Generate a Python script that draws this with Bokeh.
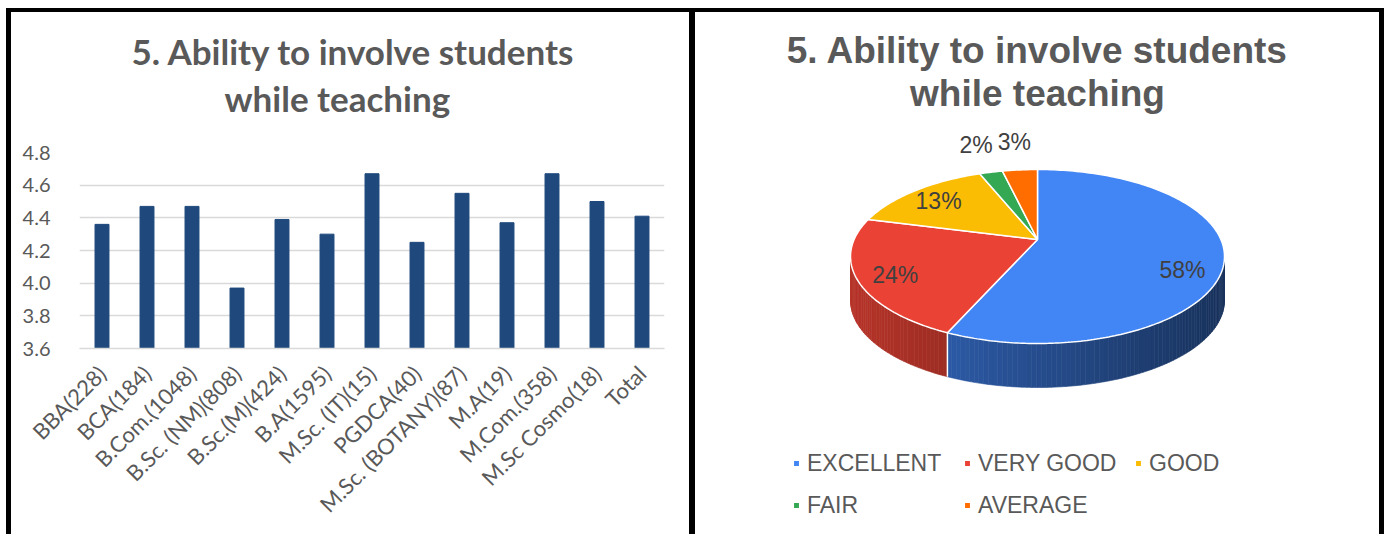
import math
from bokeh.plotting import figure
from bokeh.layouts import row
from bokeh.models import (FactorRange, Range1d, Title, FixedTicker, PrintfTickFormatter,
                          Legend, LegendItem)
from bokeh.core.properties import value
from bokeh.embed import file_html
from bokeh.resources import INLINE

# ---------------- data ----------------
courses = ["BBA(228)", "BCA(184)", "B.Com.(1048)", "B.Sc. (NM)(808)", "B.Sc.(M)(424)",
           "B.A(1595)", "M.Sc. (IT)(15)", "PGDCA(40)", "M.Sc. (BOTANY)(87)", "M.A(19)",
           "M.Com.(358)", "M.Sc Cosmo(18)", "Total"]
scores = [4.36, 4.47, 4.47, 3.97, 4.39, 4.30, 4.67, 4.25, 4.55, 4.37, 4.67, 4.50, 4.41]
y_ticks = [3.6, 3.8, 4.0, 4.2, 4.4, 4.6, 4.8]

ratings = ["EXCELLENT", "VERY GOOD", "GOOD", "FAIR", "AVERAGE"]
shares = [58, 24, 13, 2, 3]
share_labels = ["58%", "24%", "13%", "2%", "3%"]
pie_colors = ["#4285F4", "#EA4335", "#FBBC04", "#34A853", "#FF6D01"]

title_1 = "5. Ability to involve students"
title_2 = "while teaching"

GRAY = "#595959"
H = 522


def prep(p):
    if "frame_align" in p.properties():
        p.frame_align = False
    p.outline_line_color = None
    p.background_fill_color = "white"
    p.border_fill_color = "white"
    p.styles = {"background-color": "white"}


# ---------------- bar chart ----------------
p1 = figure(x_range=FactorRange(factors=courses, range_padding=0),
            y_range=Range1d(3.6, 4.8), width=678, height=H,
            output_backend="svg", toolbar_location=None,
            min_border_left=68, min_border_right=25, min_border_top=140,
            min_border_bottom=186)
prep(p1)

p1.vbar(x=courses, top=scores, bottom=3.6, width=0.31, fill_color="#1F497D",
        line_color="#1F497D")

p1.ygrid.grid_line_color = "#D9D9D9"
p1.ygrid.grid_line_width = 1.5
p1.xgrid.grid_line_color = None
p1.yaxis.ticker = FixedTicker(ticks=y_ticks)
p1.yaxis.formatter = PrintfTickFormatter(format="%.1f")
p1.yaxis.axis_line_color = None
p1.yaxis.major_tick_line_color = None
p1.yaxis.minor_tick_line_color = None
p1.yaxis.major_label_standoff = 23
p1.yaxis.major_label_text_font_size = "20px"
p1.xaxis.axis_line_color = "#D9D9D9"
p1.xaxis.axis_line_width = 1.5
p1.xaxis.major_tick_line_color = None
p1.xaxis.major_label_orientation = math.pi / 4
p1.xaxis.major_label_standoff = 15
p1.xaxis.major_label_text_font_size = "22px"
for ax in (p1.xaxis, p1.yaxis):
    ax.major_label_text_font = "Lato"
    ax.major_label_text_color = GRAY

sp1 = Title(text=" ", standoff=19.5, text_font="Lato", text_font_size="10px",
            text_color="white")
t1b = Title(text=title_2, align="left", offset=145, standoff=0,
            text_font="Lato", text_font_size="35px", text_font_style="bold",
            text_color=GRAY)
t1a = Title(text=title_1, align="left", offset=52, standoff=6,
            text_font="Lato", text_font_size="35px", text_font_style="bold",
            text_color=GRAY)
p1.add_layout(sp1, "above")
p1.add_layout(t1b, "above")
p1.add_layout(t1a, "above")

# ---------------- 3D pie ----------------
W2, TOP2 = 684, 120
FH = H - TOP2
p2 = figure(width=W2, height=H, x_range=Range1d(0, W2), y_range=Range1d(0, FH),
            output_backend="svg", toolbar_location=None, x_axis_type=None,
            y_axis_type=None, min_border_left=0, min_border_right=0,
            min_border_bottom=0, min_border_top=TOP2)
prep(p2)
p2.grid.visible = False

cx, cy, rx, ry, depth = 342.0, 278.0, 187.0, 87.0, 44.0
ax_, ay_ = cx, cy + 17.0  # apex of the slices (perspective)


def edge(theta_deg, dy=0.0):
    t = math.radians(theta_deg)
    return cx + rx * math.sin(t), cy + ry * math.cos(t) - dy


def shade(hex_color, f):
    h = hex_color.lstrip("#")
    r, g, b = (int(h[i:i + 2], 16) for i in (0, 2, 4))
    return "#%02x%02x%02x" % (int(r * f), int(g * f), int(b * f))


total = float(sum(shares))
bounds = []
acc = 0.0
for s in shares:
    a0 = acc / total * 360.0
    acc += s
    a1 = acc / total * 360.0
    bounds.append((a0, a1))

# side walls (front half, 90..270 deg), drawn as thin shaded strips
sx, sy, sc = [], [], []
for (a0, a1), col in zip(bounds, pie_colors):
    lo, hi = max(a0, 90.0), min(a1, 270.0)
    if hi <= lo:
        continue
    n = max(2, int((hi - lo) / 1.5))
    for i in range(n):
        t0 = lo + (hi - lo) * i / n
        t1 = lo + (hi - lo) * (i + 1) / n
        tm = math.radians((t0 + t1) / 2)
        f = 0.58 + 0.2 * (-math.sin(tm))
        p0, p1_ = edge(t0), edge(t1)
        q1, q0 = edge(t1, depth), edge(t0, depth)
        sx.append([p0[0], p1_[0], q1[0], q0[0]])
        sy.append([p0[1], p1_[1], q1[1], q0[1]])
        sc.append(shade(col, f))
p2.patches(xs=sx, ys=sy, fill_color=sc, line_color=sc, line_width=0.6)

for (a0, a1) in bounds:
    if 90.0 < a1 < 270.0:
        e0, e1 = edge(a1), edge(a1, depth)
        p2.line([e0[0], e1[0]], [e0[1], e1[1]], line_color="white", line_width=1.5)

# top faces
items = []
for (a0, a1), col, name in zip(bounds, pie_colors, ratings):
    n = max(3, int((a1 - a0) / 1.0))
    xs = [ax_]
    ys = [ay_]
    for i in range(n + 1):
        ex, ey = edge(a0 + (a1 - a0) * i / n)
        xs.append(ex)
        ys.append(ey)
    r = p2.patch(xs, ys, fill_color=col, line_color="white", line_width=1.5)
    items.append(LegendItem(label=name, renderers=[r]))

# percentage labels
lx, ly = [], []
for (a0, a1), s in zip(bounds, shares):
    mid = (a0 + a1) / 2
    ex, ey = edge(mid)
    if s >= 5:
        lx.append(ax_ + 0.8 * (ex - ax_))
        ly.append(ay_ + 0.8 * (ey - ay_))
    else:
        lx.append(cx + 1.32 * (ex - cx))
        ly.append(cy + 1.32 * (ey - cy))
p2.text(x=lx, y=ly, text=share_labels, text_align="center", text_baseline="middle",
        text_font=value("Liberation Sans"), text_font_size="23px", text_color="#404040")

legend = Legend(items=items, ncols=3, orientation="horizontal", location=(97, 15.5),
                glyph_width=8, glyph_height=8, label_standoff=7, label_width=141,
                label_height=23, spacing=15, padding=0, margin=0,
                border_line_color=None, background_fill_alpha=0,
                label_text_font="Liberation Sans", label_text_font_size="23px",
                label_text_color=GRAY)
p2.add_layout(legend, "center")

sp2 = Title(text=" ", standoff=5, text_font="Lato", text_font_size="10px",
            text_color="white")
t2b = Title(text=title_2, align="center", standoff=0,
            text_font="Liberation Sans", text_font_size="37px", text_font_style="bold",
            text_color=GRAY)
t2a = Title(text=title_1, align="center", standoff=0,
            text_font="Liberation Sans", text_font_size="37px", text_font_style="bold",
            text_color=GRAY)
p2.add_layout(sp2, "above")
p2.add_layout(t2b, "above")
p2.add_layout(t2a, "above")

layout = row(p1, p2, spacing=6,
             styles={"background-color": "black", "margin": "8px 0px 0px 6px",
                     "padding": "4px 5px 0px 5px"})

open("out.html", "w").write(file_html(layout, INLINE))
